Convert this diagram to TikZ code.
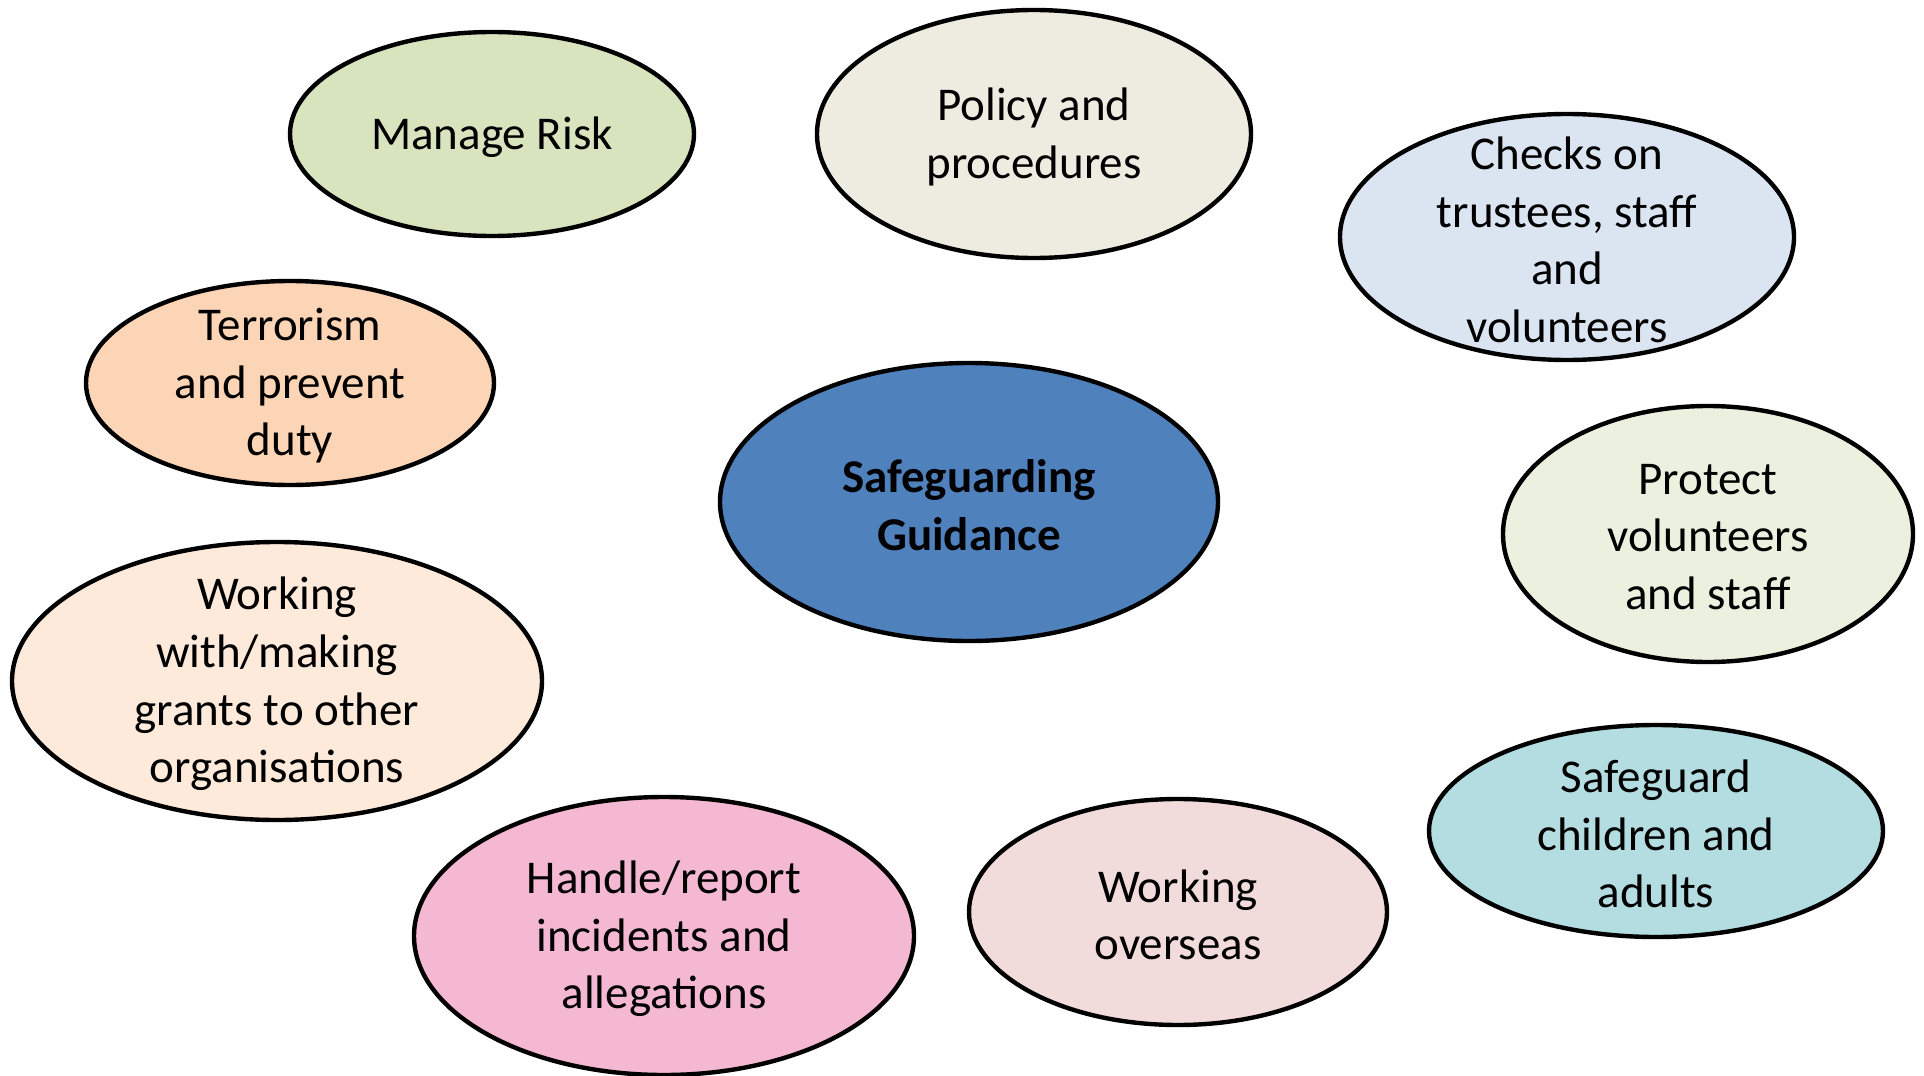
\documentclass[tikz,border=0pt]{standalone}
\usepackage{fontspec}
\setmainfont{Carlito}
\usetikzlibrary{shapes.geometric}
\definecolor{riskgreen}{HTML}{D7E4BD}
\definecolor{policybeige}{HTML}{EEECE1}
\definecolor{checksblue}{HTML}{DBE5F1}
\definecolor{terrorpeach}{HTML}{FBD5B5}
\definecolor{guideblue}{HTML}{4F81BD}
\definecolor{protectgreen}{HTML}{EBF1DE}
\definecolor{grantcream}{HTML}{FDEADA}
\definecolor{childteal}{HTML}{B3DDE0}
\definecolor{handlepink}{HTML}{F4B8D3}
\definecolor{overseasrose}{HTML}{F2DCDB}
\tikzset{
    bubble/.style={ellipse, draw=black, line width=2.2pt, inner sep=0pt},
    bubbletext/.style={align=center, inner sep=0pt, yshift=-1.5pt, font=\fontsize{23.5}{28.8}\selectfont},
}

\begin{document}
\begin{tikzpicture}[x=0.5pt, y=-0.5pt]
    \useasboundingbox (0,0) rectangle (1924,1076);
    % outer bubbles
    \node[bubble, fill=riskgreen, minimum width=202pt, minimum height=102pt] (risk) at (492,134) {};
    \node[bubbletext] (risk-t) at (risk) {Manage Risk};
    \node[bubble, fill=policybeige, minimum width=217pt, minimum height=124pt] (policy) at (1034,134) {};
    \node[bubbletext] (policy-t) at (policy) {Policy and\\procedures};
    \node[bubble, fill=checksblue, minimum width=227pt, minimum height=123pt] (checks) at (1567,237) {};
    \node[bubbletext] (checks-t) at (checks) {Checks on\\trustees, staff\\and\\volunteers};
    \node[bubble, fill=terrorpeach, minimum width=204pt, minimum height=102pt] (terror) at (290,383) {};
    \node[bubbletext] (terror-t) at (terror) {Terrorism\\and prevent\\duty};
    \node[bubble, fill=protectgreen, minimum width=205pt, minimum height=128pt] (protect) at (1708,534) {};
    \node[bubbletext] (protect-t) at (protect) {Protect\\volunteers\\and staff};
    \node[bubble, fill=grantcream, minimum width=265pt, minimum height=139pt] (grants) at (277,681) {};
    \node[bubbletext] (grants-t) at (grants) {Working\\with/making\\grants to other\\organisations};
    \node[bubble, fill=childteal, minimum width=227pt, minimum height=106pt] (children) at (1656,831) {};
    \node[bubbletext] (children-t) at (children) {Safeguard\\children and\\adults};
    \node[bubble, fill=handlepink, minimum width=250pt, minimum height=139pt] (handle) at (664,936) {};
    \node[bubbletext] (handle-t) at (handle) {Handle/report\\incidents and\\allegations};
    \node[bubble, fill=overseasrose, minimum width=209pt, minimum height=113pt] (overseas) at (1178,912) {};
    \node[bubbletext] (overseas-t) at (overseas) {Working\\overseas};
    % centre
    \node[bubble, fill=guideblue, minimum width=249pt, minimum height=139pt] (guide) at (969,502) {};
    \node[bubbletext, font=\fontsize{23.5}{28.8}\selectfont\bfseries] (guide-t) at (guide) {Safeguarding\\Guidance};
\end{tikzpicture}
\end{document}
